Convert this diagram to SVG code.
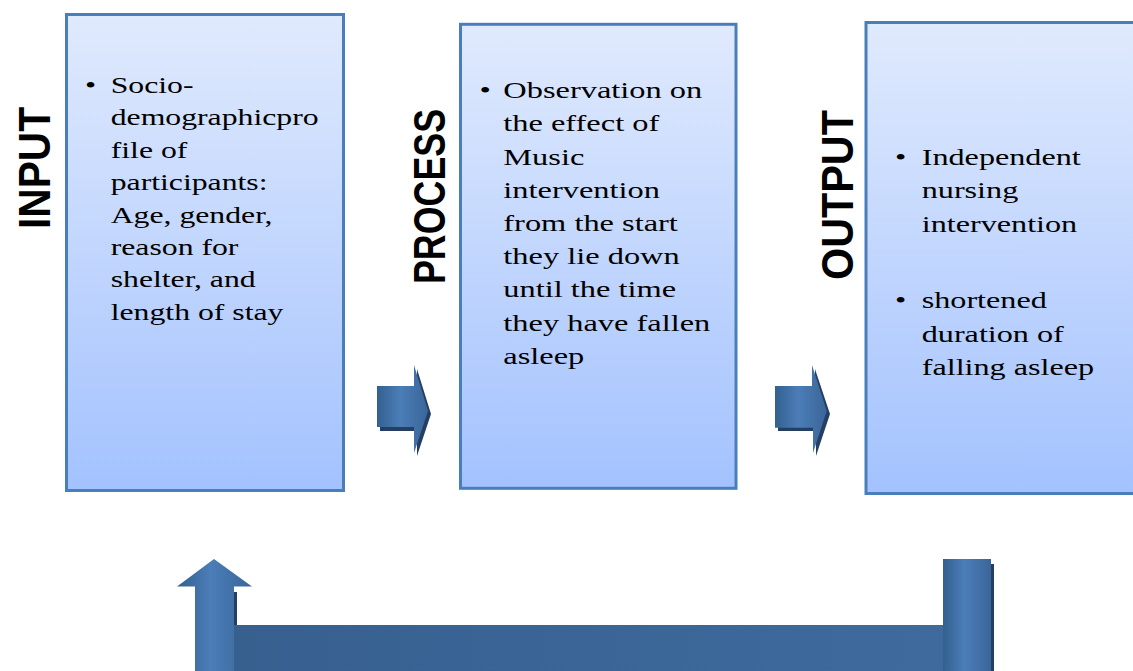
<svg xmlns="http://www.w3.org/2000/svg" width="1133" height="671" viewBox="0 0 1133 671">
<defs>
<linearGradient id="boxFill" x1="0" y1="0" x2="0" y2="1">
<stop offset="0" stop-color="#e0eafd"/>
<stop offset="1" stop-color="#a3c2fe"/>
</linearGradient>
<linearGradient id="arrowH" x1="0" y1="0" x2="1" y2="0">
<stop offset="0" stop-color="#33608f"/>
<stop offset="0.45" stop-color="#4b7db7"/>
<stop offset="1" stop-color="#3a6699"/>
</linearGradient>
<linearGradient id="barV" x1="0" y1="0" x2="1" y2="0">
<stop offset="0" stop-color="#37608f"/>
<stop offset="1" stop-color="#3e6a9e"/>
</linearGradient>
<style>
.box{fill:url(#boxFill);stroke:#4a7ebb;stroke-width:3}
.title{font-family:"Liberation Sans",Arial,sans-serif;font-weight:bold;font-size:45px;fill:#000}
.body{font-family:"Liberation Serif","Times New Roman",serif;font-size:23.5px;fill:#000}
.b1{font-size:23px}
.shadow{fill:#243f63}
.arrow{fill:url(#arrowH)}
</style>
</defs>

<g id="input">
<rect class="box" x="66.5" y="14.5" width="277" height="476"/>
<text class="title" transform="translate(50,168) rotate(-90)" text-anchor="middle" textLength="122" lengthAdjust="spacingAndGlyphs">INPUT</text>
<text class="body b1" transform="matrix(1.38 0 0 1 85 0)" x="0" y="93">•</text>
<text class="body b1" transform="matrix(1.38 0 0 1 110.7 0)">
<tspan x="0" y="93">Socio-</tspan>
<tspan x="0" y="125.4">demographicpro</tspan>
<tspan x="0" y="157.8">file of</tspan>
<tspan x="0" y="190.2">participants:</tspan>
<tspan x="0" y="222.6">Age, gender,</tspan>
<tspan x="0" y="255">reason for</tspan>
<tspan x="0" y="287.4">shelter, and</tspan>
<tspan x="0" y="319.8">length of stay</tspan>
</text>
</g>

<g id="process">
<rect class="box" x="460.5" y="24.3" width="275.5" height="464"/>
<text class="title" transform="translate(445,196.5) rotate(-90)" text-anchor="middle" textLength="175" lengthAdjust="spacingAndGlyphs">PROCESS</text>
<text class="body" transform="matrix(1.38 0 0 1 479.5 0)" x="0" y="98.3">•</text>
<text class="body" transform="matrix(1.38 0 0 1 503.3 0)">
<tspan x="0" y="98.3">Observation on</tspan>
<tspan x="0" y="131.5">the effect of</tspan>
<tspan x="0" y="164.7">Music</tspan>
<tspan x="0" y="197.9">intervention</tspan>
<tspan x="0" y="231.1">from the start</tspan>
<tspan x="0" y="264.3">they lie down</tspan>
<tspan x="0" y="297.5">until the time</tspan>
<tspan x="0" y="330.7">they have fallen</tspan>
<tspan x="0" y="363.9">asleep</tspan>
</text>
</g>

<g id="output">
<rect class="box" x="866" y="22.5" width="300" height="471"/>
<text class="title" transform="translate(853,195) rotate(-90)" text-anchor="middle" textLength="170" lengthAdjust="spacingAndGlyphs">OUTPUT</text>
<text class="body" transform="matrix(1.37 0 0 1 895 0)" x="0" y="165">•</text>
<text class="body" transform="matrix(1.37 0 0 1 895 0)" x="0" y="308.3">•</text>
<text class="body" transform="matrix(1.37 0 0 1 921.7 0)">
<tspan x="0" y="165">Independent</tspan>
<tspan x="0" y="198.3">nursing</tspan>
<tspan x="0" y="231.6">intervention</tspan>
<tspan x="0" y="308.3">shortened</tspan>
<tspan x="0" y="341.6">duration of</tspan>
<tspan x="0" y="374.9">falling asleep</tspan>
</text>
</g>

<g id="connectors">
<g id="arrow-input-process">
<polygon class="shadow" points="380,390 417,390 417,369 431,414 417,456 417,431 380,431"/>
<polygon class="arrow" points="377,386 414,386 414,365 428,411 414,453 414,427 377,427"/>
</g>
<g id="arrow-process-output">
<polygon class="shadow" points="778,390 815,390 815,369 830,414 816,456 816,431 778,431"/>
<polygon class="arrow" points="775,386 812,386 812,365 826.7,411 813,453 813,427.7 775,427.7"/>
</g>
<g id="feedback">
<polygon class="shadow" points="946,564 994,564 994,671 946,671"/>
<polygon class="shadow" points="180,592 255,592 237,592 237,671 198,671 198,592"/>
<rect x="230" y="625" width="716" height="50" fill="url(#barV)"/>
<polygon class="arrow" points="214,559 252,586.5 234,586.5 234,671 195,671 195,586.5 177,586.5"/>
<rect class="arrow" x="943" y="559" width="48" height="112"/>
</g>
</g>
</svg>
